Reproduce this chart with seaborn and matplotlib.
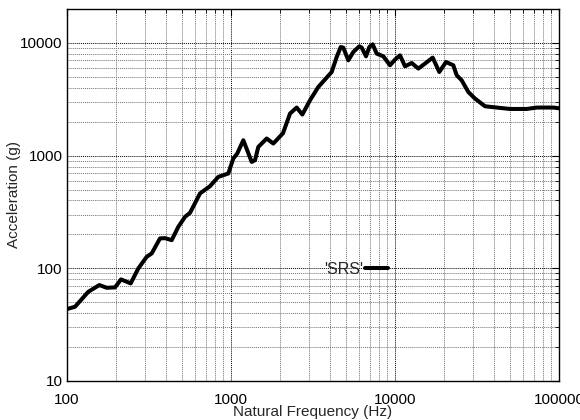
import matplotlib
matplotlib.use("Agg")
import matplotlib.pyplot as plt
import matplotlib.ticker as mticker
import seaborn as sns
import pandas as pd

freq_hz = [100, 111.9, 134.9, 157.4, 174.6, 196.2, 213.5, 244.6, 272.2, 306.2,
           328.6, 369.0, 395.9, 434.9, 477.1, 524.2, 562.3, 647.1, 744.7, 836.8,
           962.8, 1033, 1092, 1189, 1337, 1401, 1467, 1651, 1811, 2075,
           2290, 2515, 2722, 3032, 3407, 4111, 4410, 4666, 4840, 5191,
           5568, 6058, 6266, 6657, 6972, 7311, 7733, 8487, 9322, 10000,
           10728, 11510, 12640, 13875, 15236, 16978, 18624, 20464, 22680, 23780,
           25510, 27990, 30740, 35390, 41700, 50260, 63530, 73110, 92300, 100000]
accel_g = [43.5, 45.6, 61.9, 71.0, 67.2, 67.7, 79.7, 73.5, 99.8, 126.5,
           135.6, 184.1, 185.2, 177.8, 233.3, 286.2, 310.5, 461.3, 535.5, 647.5,
           693.9, 942.6, 1044, 1369, 879.6, 910.7, 1194, 1418, 1280, 1580,
           2362, 2670, 2314, 3099, 4064, 5521, 7499, 9196, 9085, 7010,
           8305, 9330, 9085, 7607, 9196, 9719, 8038, 7607, 6331, 7110,
           7765, 6204, 6635, 5920, 6555, 7405, 5521, 6770, 6331, 5161,
           4661, 3670, 3209, 2741, 2670, 2594, 2594, 2670, 2670, 2631]
series_name = "'SRS'"
x_ticks = [100, 1000, 10000, 100000]
y_ticks = [10, 100, 1000, 10000]

df = pd.DataFrame({"freq": freq_hz, "accel": accel_g, "series": series_name})

sns.set_style("white")
plt.rcParams["font.family"] = ["Liberation Sans", "DejaVu Sans"]

fig = plt.figure(figsize=(5.8, 4.2), dpi=100)
ax = fig.add_axes([67/580, 1-381/420, (559-67)/580, (381-9)/420])

sns.lineplot(data=df, x="freq", y="accel", hue="series", palette=["black"],
             linewidth=2.9, ax=ax, sort=False)

ax.set_xscale("log")
ax.set_yscale("log")
ax.set_xlim(100, 100000)
ax.set_ylim(10, 20000)

ax.xaxis.set_major_locator(mticker.FixedLocator(x_ticks))
ax.yaxis.set_major_locator(mticker.FixedLocator(y_ticks))
ax.xaxis.set_major_formatter(mticker.FixedFormatter([str(v) for v in x_ticks]))
ax.yaxis.set_major_formatter(mticker.FixedFormatter([str(v) for v in y_ticks]))
ax.xaxis.set_minor_locator(mticker.LogLocator(base=10, subs=range(2, 10)))
ax.yaxis.set_minor_locator(mticker.LogLocator(base=10, subs=range(2, 10)))
ax.xaxis.set_minor_formatter(mticker.NullFormatter())
ax.yaxis.set_minor_formatter(mticker.NullFormatter())

ax.grid(which="major", linestyle=(0, (1, 1)), color="black", linewidth=0.7)
ax.grid(which="minor", linestyle=(0, (1, 1)), color="0.45", linewidth=0.7)
ax.set_axisbelow(True)

ax.tick_params(which="both", direction="in", top=True, right=True,
               labelsize=11, colors="black")
ax.tick_params(axis="y", which="both", pad=3)
ax.tick_params(axis="x", which="both", pad=8.5)
ax.tick_params(which="major", length=5, width=0.8)
ax.tick_params(which="minor", length=3, width=0.6)
for s in ax.spines.values():
    s.set_color("black")
    s.set_linewidth(1.0)

ax.set_xlabel("Natural Frequency (Hz)", fontsize=11, labelpad=-1.5)
ax.set_ylabel("Acceleration (g)", fontsize=11, labelpad=-0.5)

leg = ax.legend(loc="center left", bbox_to_anchor=(0.522, 0.30), frameon=False,
                markerfirst=False, handlelength=1.45, handletextpad=0.15,
                fontsize=11.5, borderaxespad=0, borderpad=0)
for line in leg.get_lines():
    line.set_linewidth(2.9)

fig.savefig("out.png", dpi=100)
